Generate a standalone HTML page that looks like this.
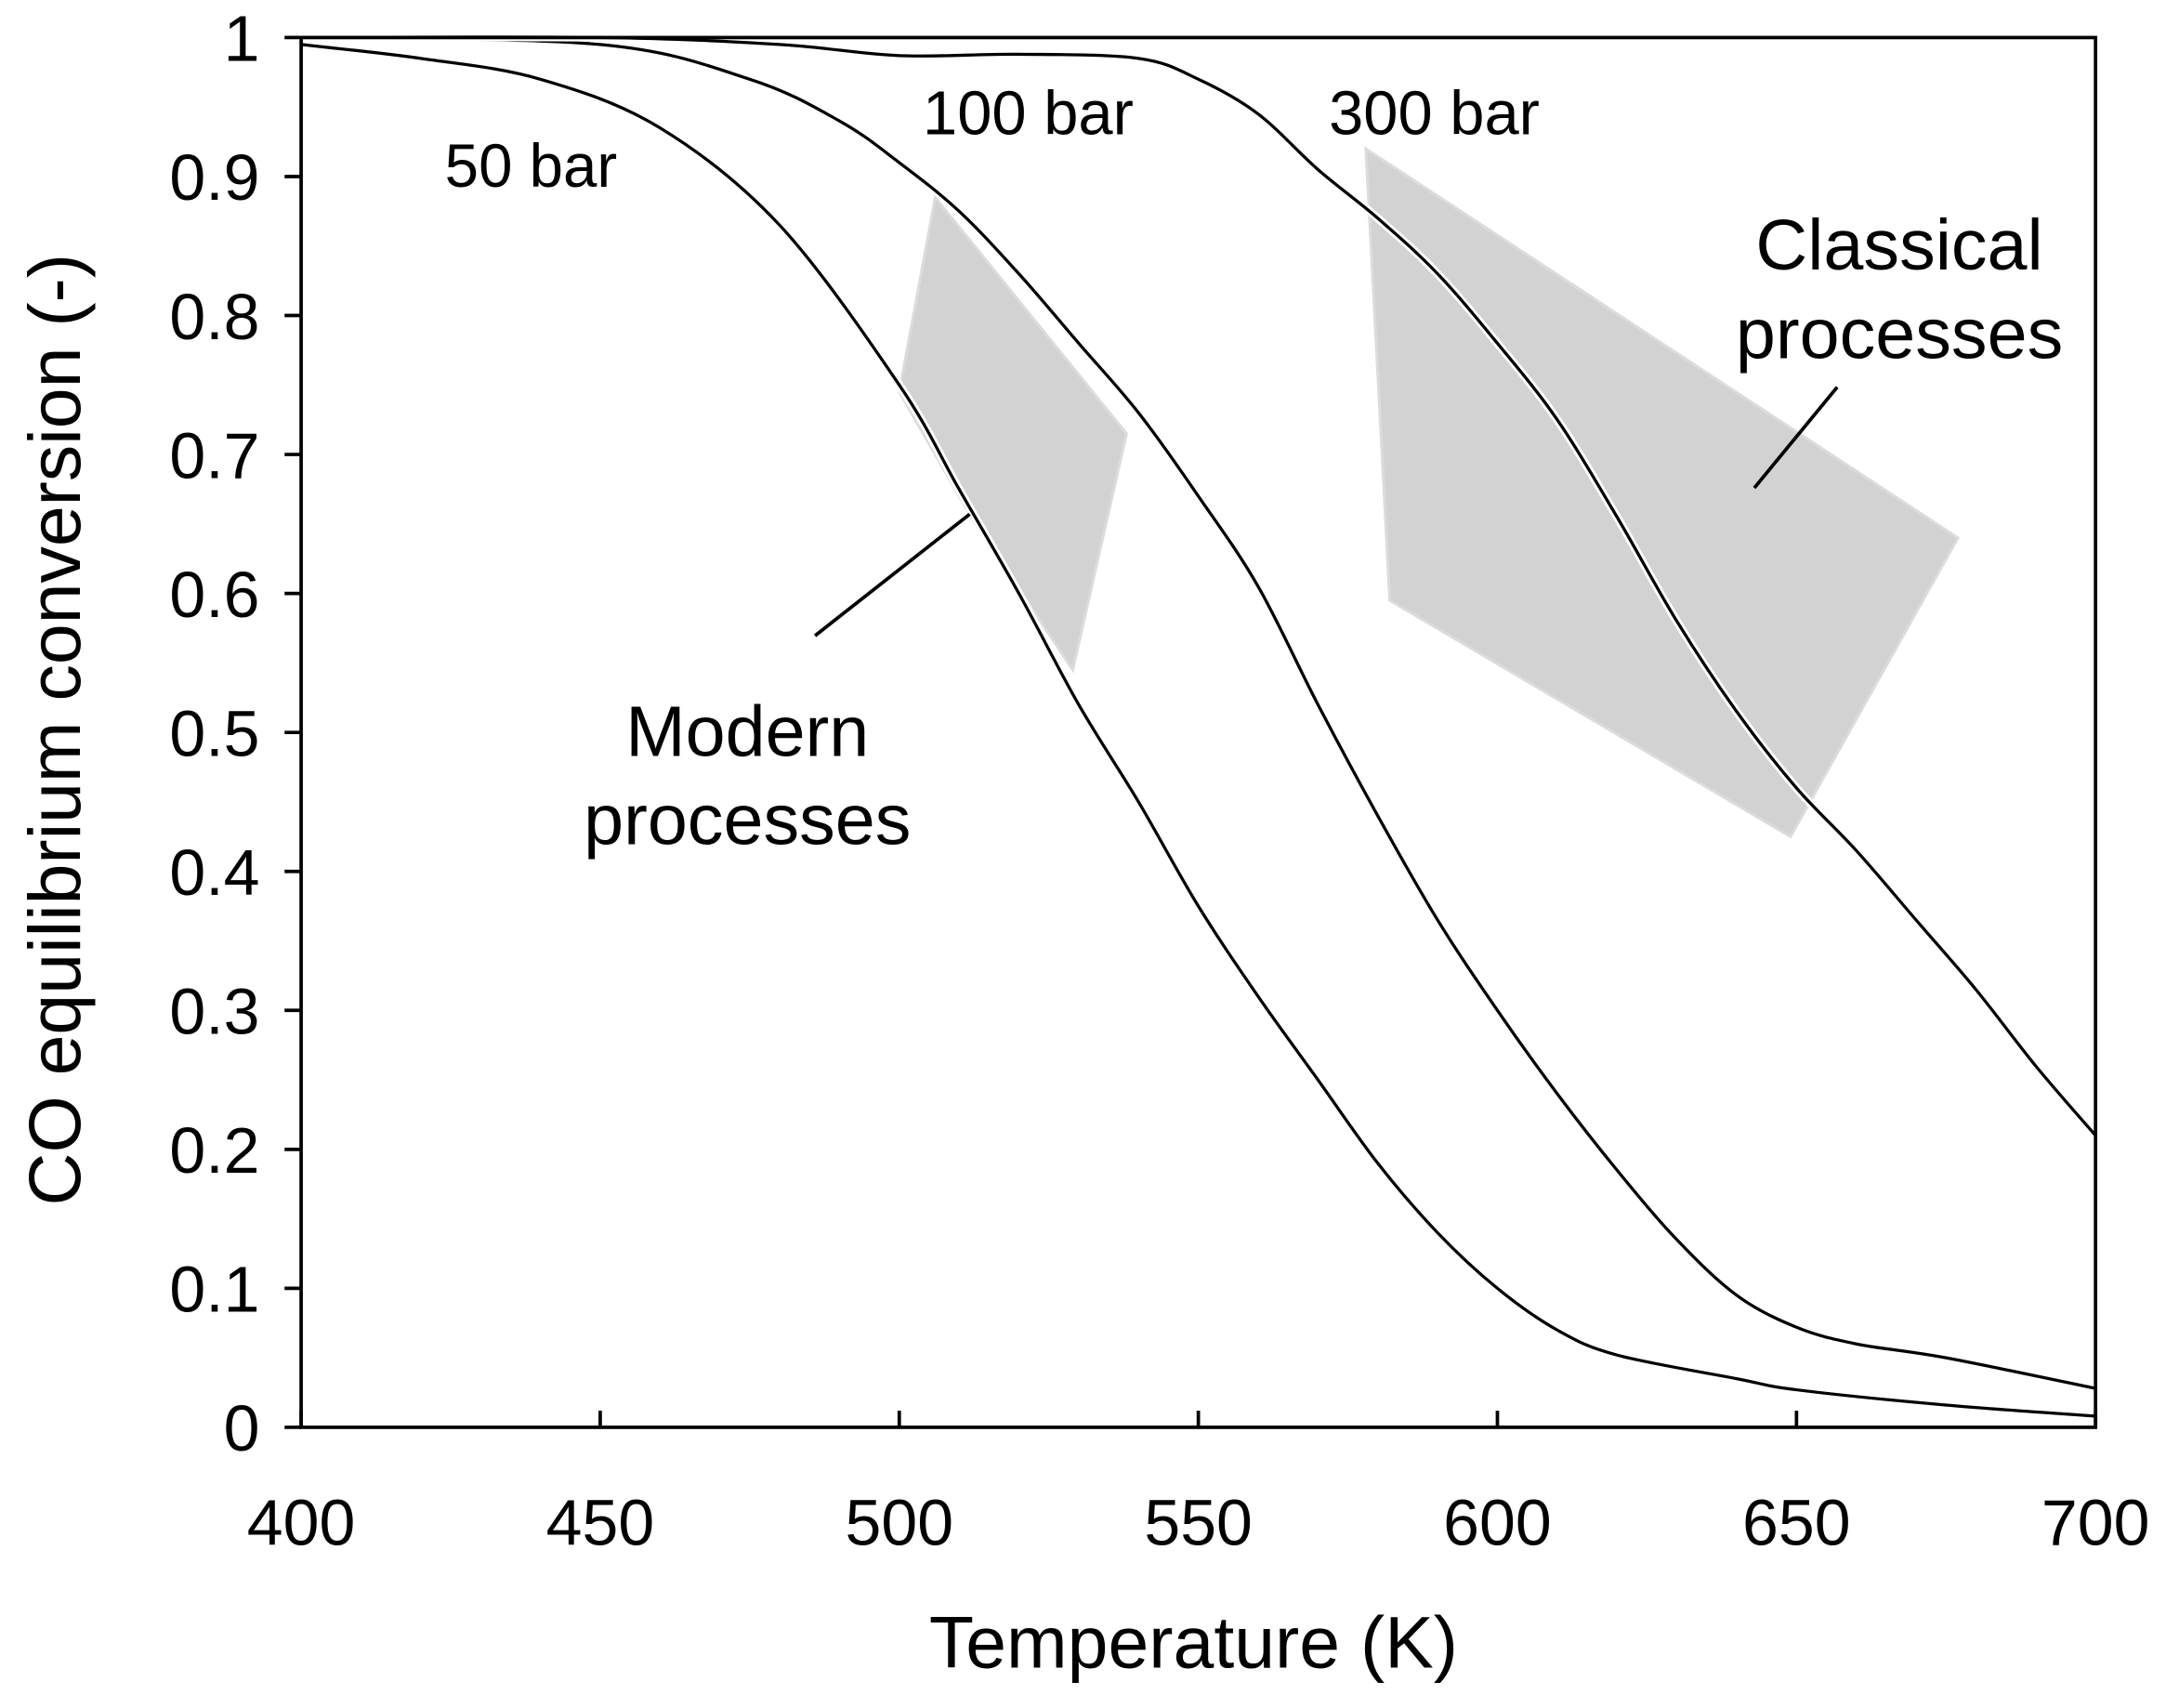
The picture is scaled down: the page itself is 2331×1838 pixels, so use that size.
<!DOCTYPE html>
<html><head><meta charset="utf-8"><style>
html,body{margin:0;padding:0;background:#fff;}
svg{display:block;}
text{font-family:"Liberation Sans",Arial,sans-serif;fill:#000;}
</style></head><body>
<svg id="chart" width="2331" height="1838" viewBox="0 0 1568 1236" xmlns="http://www.w3.org/2000/svg">
<g id="shades"></g>
<g id="curves"></g>
<g id="axes"></g>
<g id="labels"></g>
</svg>
<script>
const xTicks=[400,450,500,550,600,650,700];
const yTicks=[0,0.1,0.2,0.3,0.4,0.5,0.6,0.7,0.8,0.9,1];
const yTickLabels=["0","0.1","0.2","0.3","0.4","0.5","0.6","0.7","0.8","0.9","1"];
const temps50=[400,420,440,460,480,500,510,520,530,540,550,560,570,580,590,600,610,620,640,650,675,700];
const conv50=[0.995,0.985,0.97,0.935,0.865,0.75,0.675,0.6,0.52,0.45,0.375,0.31,0.25,0.19,0.14,0.1,0.07,0.052,0.035,0.027,0.016,0.008];
const temps100=[400,450,475,490,500,510,520,530,540,550,560,570,580,590,600,610,620,630,640,650,660,675,700];
const conv100=[1.0,0.995,0.97,0.94,0.91,0.875,0.83,0.78,0.73,0.67,0.605,0.52,0.44,0.365,0.3,0.24,0.185,0.135,0.095,0.072,0.06,0.05,0.028];
const temps300=[400,450,480,500,520,540,550,560,570,580,590,600,610,620,630,640,650,660,670,680,690,700];
const conv300=[1.0,1.0,0.995,0.987,0.988,0.985,0.97,0.945,0.905,0.87,0.83,0.78,0.725,0.655,0.58,0.515,0.46,0.415,0.365,0.315,0.26,0.21];
const modernRegion=[[506,0.885],[500,0.745],[512,0.655],[529,0.545],[538,0.715]];
const classicalRegion=[[578,0.92],[582,0.595],[649,0.425],[677,0.64]];

const X0=218,X1=1517,Y0=1033,Y1=27;
const sx=t=>X0+(t-400)/300*(X1-X0);
const sy=v=>Y0-v*(Y0-Y1);
const NS="http://www.w3.org/2000/svg";
function mk(tag,attrs,parent){const e=document.createElementNS(NS,tag);for(const k in attrs)e.setAttribute(k,attrs[k]);parent.appendChild(e);return e;}
const G=id=>document.getElementById(id);

let p=mk('polygon',{points:modernRegion.map(d=>sx(d[0])+','+sy(d[1])).join(' '),fill:'#d2d2d2',stroke:'#dcdcdc','stroke-width':2},G('shades'));


p=mk('polygon',{points:classicalRegion.map(d=>sx(d[0])+','+sy(d[1])).join(' '),fill:'#d2d2d2',stroke:'#dcdcdc','stroke-width':2},G('shades'));



function curve(ts,vs,name){
  const pts=ts.map((t,i)=>[sx(t),sy(vs[i])]);
  let d='M'+pts[0][0]+','+pts[0][1];
  for(let i=0;i<pts.length-1;i++){
    const p0=pts[i-1]||pts[i],p1=pts[i],p2=pts[i+1],p3=pts[i+2]||p2;
    d+=' C'+(p1[0]+(p2[0]-p0[0])/6)+','+(p1[1]+(p2[1]-p0[1])/6)+' '+(p2[0]-(p3[0]-p1[0])/6)+','+(p2[1]-(p3[1]-p1[1])/6)+' '+p2[0]+','+p2[1];
  }
  mk('path',{d:d,fill:'none',stroke:'#fff','stroke-width':6},G('curves'));
  const e=mk('path',{d:d,fill:'none',stroke:'#000','stroke-width':2.2},G('curves'));
  
  
}
curve(temps50,conv50,'curve-50-bar');
curve(temps100,conv100,'curve-100-bar');
curve(temps300,conv300,'curve-300-bar');

const ax=G('axes');
let r=mk('rect',{x:X0,y:Y1,width:X1-X0,height:Y0-Y1,fill:'none',stroke:'#000','stroke-width':2.5},ax);


xTicks.forEach(t=>{
  mk('line',{x1:sx(t),x2:sx(t),y1:Y0,y2:Y0-12,stroke:'#000','stroke-width':2.5},ax);
  const e=mk('text',{x:sx(t),y:1118,'font-size':47,'text-anchor':'middle'},ax);e.textContent=t;
  
  
});
yTicks.forEach((v,i)=>{
  mk('line',{x1:X0-12,x2:X0,y1:sy(v),y2:sy(v),stroke:'#000','stroke-width':2.5},ax);
  const e=mk('text',{x:188,y:sy(v)+17,'font-size':47,'text-anchor':'end'},ax);e.textContent=yTickLabels[i];
  
  
});
const L=G('labels');
function txt(x,y,s,fs,name,anchor){const e=mk('text',{x:x,y:y,'font-size':fs,'text-anchor':anchor||'start'},L);e.textContent=s;
  
  return e;}
txt(864,1207,'Temperature (K)',53,'x-axis-title','middle');
let yt=txt(0,0,'CO equilibrium conversion (-)',53,'y-axis-title','middle');
yt.setAttribute('transform','translate(58,528) rotate(-90)');
txt(322,135,'50 bar',44,'label-50-bar');
txt(668,97,'100 bar',45,'label-100-bar');
txt(962,97,'300 bar',45,'label-300-bar');
txt(541,547,'Modern',52,'label-modern','middle');
txt(541,611,'processes',52,'label-modern-2','middle');
txt(1375,195,'Classical',52,'label-classical','middle');
txt(1375,259,'processes',52,'label-classical-2','middle');
let l=mk('line',{x1:590,y1:460,x2:702,y2:372,stroke:'#000','stroke-width':2.5},L);


l=mk('line',{x1:1270,y1:353,x2:1330,y2:280,stroke:'#000','stroke-width':2.5},L);


</script>
</body></html>
